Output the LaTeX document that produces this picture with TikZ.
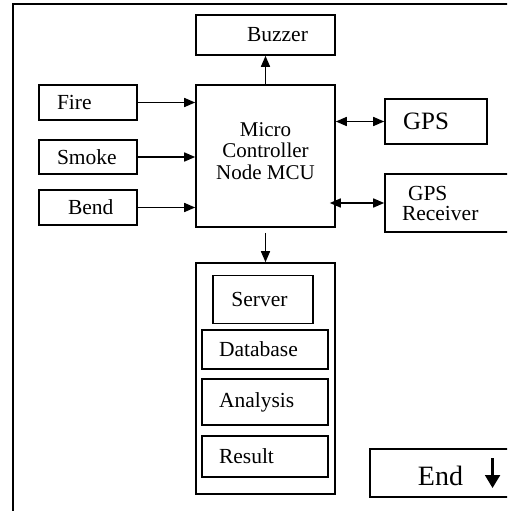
\documentclass[tikz,border=0pt]{standalone}
\usepackage{fontspec}
\setmainfont{Liberation Serif}
\usetikzlibrary{arrows.meta}

\tikzset{
  box/.style = {draw, rectangle, line width = 1.6pt, inner sep = 0pt,
                font = \fontsize{21.5}{23}\selectfont},
  sensor/.style = {box, minimum width = 98pt, minimum height = 35pt,
                   text width = 62pt, align = left},
  stage/.style = {box, minimum width = 126pt, text width = 92pt, align = left},
  arr/.style = {line width = 1.6pt, -{Triangle[length = 11pt, width = 9pt]}},
  dbl/.style = {line width = 1.6pt, {Triangle[length = 11pt, width = 9pt]}-{Triangle[length = 11pt, width = 9pt]}}
}

\begin{document}
\begin{tikzpicture}[x = 1pt, y = -1pt]
  \clip (0, 0) rectangle (507, 511);
  \draw[line width = 2.2pt] (13, 520) -- (13, 4) -- (520, 4);

  \node[box, minimum width = 139pt, minimum height = 40pt] (buzzer) at (265.5, 35) {\hspace*{24pt}Buzzer};
  \node[box, minimum width = 139pt, minimum height = 142pt, align = center,
        font = \fontsize{21}{21.5}\selectfont] (mcu) at (265.5, 156) {Micro\\Controller\\Node MCU\\[-11pt]\mbox{}};

  \node[sensor] (fire) at (88, 102.5) {Fire};
  \node[sensor, minimum height = 34pt] (smoke) at (88, 157) {Smoke};
  \node[sensor] (bend) at (88, 207.5) {\hspace*{11pt}Bend};

  \node[box, minimum width = 102pt, minimum height = 45pt, font = \fontsize{25}{27}\selectfont] (gps) at (436, 121.5) {GPS\hspace*{20pt}};
  \node[box, minimum width = 145pt, minimum height = 58pt, text width = 111pt, align = left,
        font = \fontsize{21.5}{20}\selectfont] (gpsrx) at (457.5, 203) {\hspace*{6pt}GPS\\Receiver};

  \node[box, minimum width = 139pt, minimum height = 231pt] (backend) at (265.5, 378.5) {};
  \node[box, minimum width = 100pt, minimum height = 48pt] (server) at (263, 299.5) {Server\hspace*{7pt}};
  \node[stage, minimum height = 39pt] (database) at (265, 349.5) {Database};
  \node[stage, minimum height = 46pt] (analysis) at (265, 402) {Analysis};
  \node[stage, minimum height = 41pt] (result) at (265, 456.5) {Result};

  \node[box, minimum width = 160pt, minimum height = 48pt,
        font = \fontsize{28}{30}\selectfont] (finish) at (450, 473) {\hspace*{18pt}End\hspace{22pt}\tikz[baseline]\draw[line width = 2.2pt, -{Triangle[length = 13pt, width = 15pt]}] (0pt, 27pt) -- (0pt, -3pt);};

  \draw[arr] (mcu.north) -- (buzzer.south);
  \draw[arr] (fire.east) -- (fire.east -| mcu.west);
  \draw[arr] (smoke.east) -- (smoke.east -| mcu.west);
  \draw[arr] (bend.east) -- (bend.east -| mcu.west);
  \draw[dbl] (mcu.east |- gps.west) -- (gps.west);
  \draw[dbl, shorten <= -6pt] (mcu.east |- gpsrx.west) -- (gpsrx.west);
  \draw[arr] ([yshift = -5pt]mcu.south) -- (backend.north);
\end{tikzpicture}
\end{document}
